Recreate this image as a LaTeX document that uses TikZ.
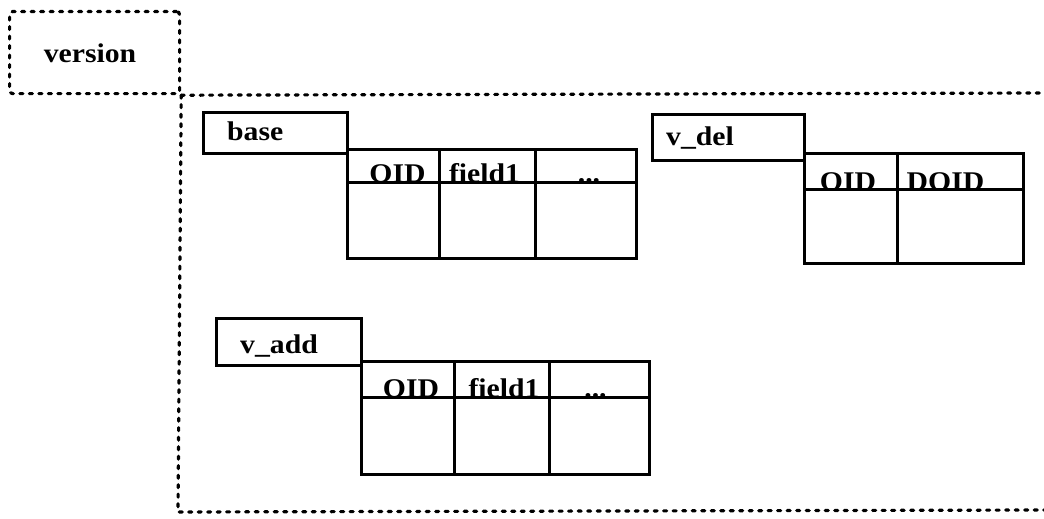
\documentclass[tikz,border=0pt]{standalone}
\usepackage{fontspec}
\newfontfamily\df{Liberation Serif}[FakeStretch=1.1]
\begin{document}
\begin{tikzpicture}[x=1pt,y=-1pt,
  dots/.style={line width=3.2pt, dash pattern=on 3pt off 6.5pt, line cap=round},
  cell/.style={draw, line width=3pt, inner sep=0pt, anchor=north west},
  txt/.style={font=\df\bfseries\fontsize{27}{27}\selectfont, inner sep=0pt}
]
\useasboundingbox[fill=white] (0,0) rectangle (1044,519);
% version box and frame
\node[draw, dots, rounded corners=3pt, minimum width=170pt, minimum height=82pt, anchor=north west, inner sep=0pt] (ver) at (8,10) {};
\node[txt, anchor=base] (vertxt) at (90,63) {version};
\coordinate (fr) at (1044,93);
\coordinate (bl) at (178,512);
\coordinate (br) at (1044,510);
\draw[dots] (ver.south east) -- (fr);
\draw[dots] (ver.south east) -- (bl) -- (br);
% base
\node[cell, minimum width=144pt, minimum height=41pt] (base) at (202,111) {};
\node[txt, anchor=base west] (basetxt) at (227,140) {base};
\node[cell, minimum width=92pt, minimum height=33pt] (bh1) at (346,148) {};
\node[cell, minimum width=96pt, minimum height=33pt] (bh2) at (438,148) {};
\node[cell, minimum width=101pt, minimum height=33pt] (bh3) at (534,148) {};
\node[cell, minimum width=92pt, minimum height=76pt] (bb1) at (346,181) {};
\node[cell, minimum width=96pt, minimum height=76pt] (bb2) at (438,181) {};
\node[cell, minimum width=101pt, minimum height=76pt] (bb3) at (534,181) {};
\node[txt, anchor=base] (bt1) at ([yshift=2pt,xshift=4pt]bh1.south) {OID};
\node[txt, anchor=base] (bt2) at ([yshift=2pt,xshift=-3pt]bh2.south) {field1};
\node[txt, anchor=base] (bt3) at ([yshift=2pt,xshift=3pt]bh3.south) {...};
% v_del
\node[cell, minimum width=152pt, minimum height=46pt] (vdel) at (651,113) {};
\node[txt, anchor=base west] (vdeltxt) at (666,145) {v\_del};
\node[cell, minimum width=93pt, minimum height=36pt] (dh1) at (803,152) {};
\node[cell, minimum width=126pt, minimum height=36pt] (dh2) at (896,152) {};
\node[cell, minimum width=93pt, minimum height=74pt] (db1) at (803,188) {};
\node[cell, minimum width=126pt, minimum height=74pt] (db2) at (896,188) {};
\node[txt, anchor=base] (dt1) at ([yshift=1pt,xshift=-3pt]dh1.south) {OID};
\node[txt, anchor=base] (dt2) at ([yshift=1pt,xshift=-15pt]dh2.south) {DOID};
% v_add
\node[cell, minimum width=145pt, minimum height=47pt] (vadd) at (215,317) {};
\node[txt, anchor=base west] (vaddtxt) at (240,353) {v\_add};
\node[cell, minimum width=93pt, minimum height=36pt] (ah1) at (360,360) {};
\node[cell, minimum width=95pt, minimum height=36pt] (ah2) at (453,360) {};
\node[cell, minimum width=100pt, minimum height=36pt] (ah3) at (548,360) {};
\node[cell, minimum width=93pt, minimum height=77pt] (ab1) at (360,396) {};
\node[cell, minimum width=95pt, minimum height=77pt] (ab2) at (453,396) {};
\node[cell, minimum width=100pt, minimum height=77pt] (ab3) at (548,396) {};
\node[txt, anchor=base] (at1) at ([yshift=2pt,xshift=3pt]ah1.south) {OID};
\node[txt, anchor=base] (at2) at ([yshift=2pt,xshift=2pt]ah2.south) {field1};
\node[txt, anchor=base] (at3) at ([yshift=2pt,xshift=-4pt]ah3.south) {...};
\end{tikzpicture}
\end{document}
